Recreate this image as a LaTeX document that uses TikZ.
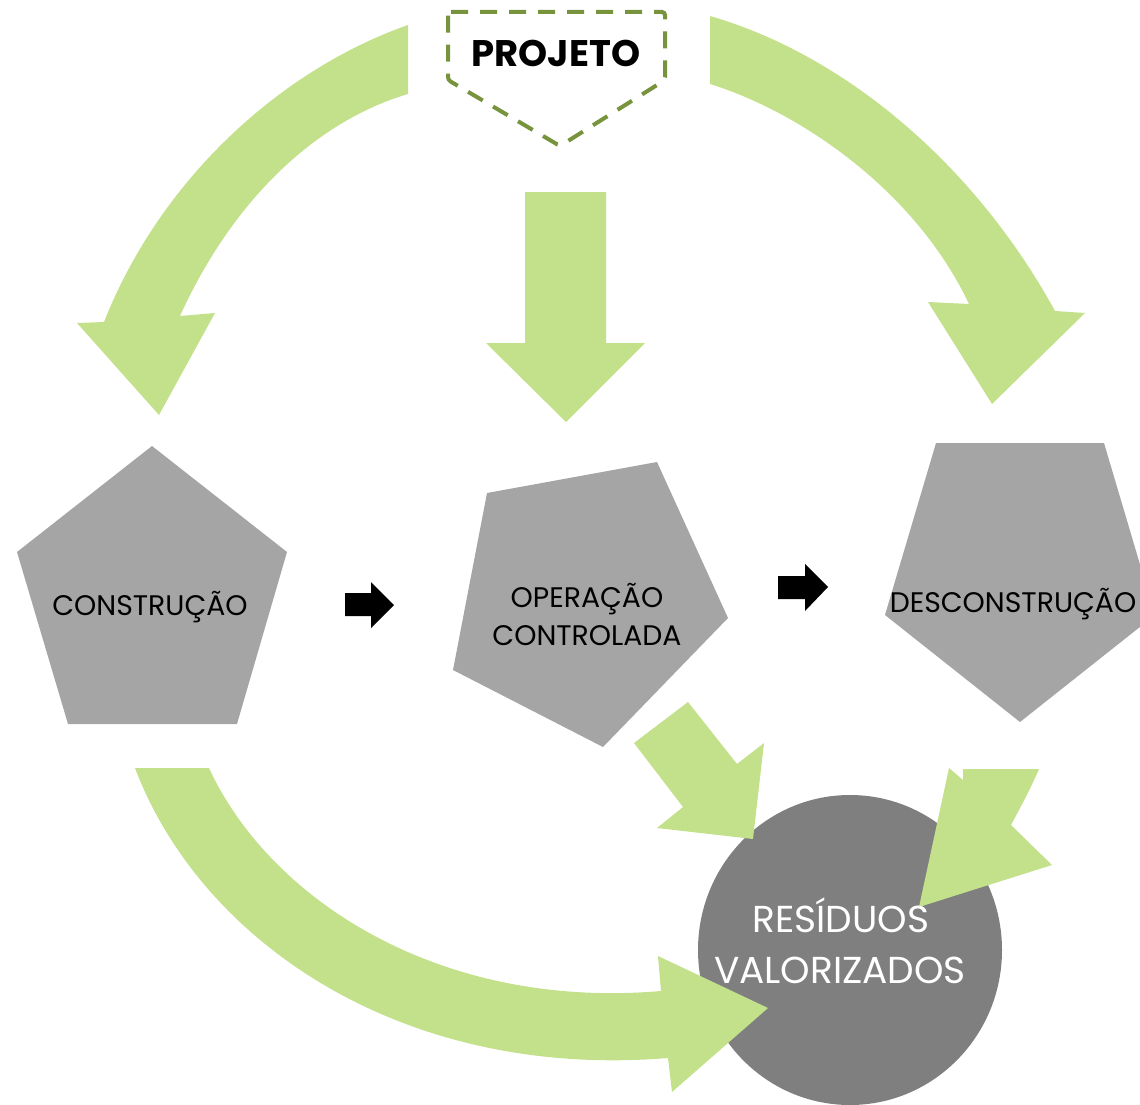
\documentclass[tikz,border=0pt]{standalone}
\usepackage{fontspec}
\setmainfont{Poppins}
\definecolor{leaf}{HTML}{C3E08B}
\definecolor{stone}{HTML}{A5A5A5}
\definecolor{slate}{HTML}{7F7F7F}
\definecolor{olive}{HTML}{77933C}
\begin{document}
\begin{tikzpicture}[x=1pt,y=-1pt,
  flow/.style={fill=leaf, draw=none},
  block/.style={fill=stone, draw=none},
  push/.style={fill=black, draw=none},
  stagetext/.style={font=\fontsize{28.3}{32}\selectfont, text=black, anchor=base, inner sep=0pt},
  hubtext/.style={font=\fontsize{37.5}{42}\selectfont, text=white, anchor=base, inner sep=0pt},
]
\useasboundingbox (0,0) rectangle (1140,1105);

% project badge
\draw[olive, line width=4, dash pattern=on 17 off 12, rounded corners=3]
  (448,12) -- (665,12) -- (665,80) -- (560,146) -- (448,80) -- cycle;
\node[font=\bfseries\fontsize{37}{42}\selectfont, text=black, anchor=base, inner sep=0pt] (projeto) at (556,67) {PROJETO};

% curved arrow: project -> construction
\path[flow] (408,25) .. controls (280,70) and (160,180) .. (104,322)
  -- (77,323) -- (159,415) -- (215,313) -- (180,316)
  .. controls (235,195) and (320,120) .. (408,94) -- cycle;

% curved arrow: project -> deconstruction
\path[flow] (710,16) .. controls (845,55) and (975,165) .. (1055,311)
  -- (1085,313) -- (992,404) -- (928,302) -- (969,304)
  .. controls (915,190) and (800,112) .. (710,84) -- cycle;

% straight arrow: project -> operation
\path[flow] (525,192) -- (606,192) -- (606,343) -- (645,343) -- (566,422)
  -- (486,343) -- (525,343) -- cycle;

% stages
\path[block] (152,446) -- (287,552) -- (237,724) -- (68,724) -- (17,552) -- cycle;
\path[block] (487,493) -- (657,462) -- (728,618) -- (603,747) -- (453,670) -- cycle;
\path[block] (936,443) -- (1104,443) -- (1155,615) -- (1020,722) -- (885,615) -- cycle;

\node[stagetext] (construcao) at (150,615) {CONSTRUÇÃO};
\node[stagetext] (operacao) at (587,607) {OPERAÇÃO};
\node[stagetext] (controlada) at (587,645) {CONTROLADA};
\node[stagetext] (desconstrucao) at (1013,612) {DESCONSTRUÇÃO};

% sequence arrows
\path[push] (345,593) -- (371,593) -- (371,582) -- (394,605) -- (371,628) -- (371,616) -- (345,616) -- cycle;
\path[push] (778,576) -- (805,576) -- (805,564) -- (828,587) -- (805,611) -- (805,599) -- (778,599) -- cycle;

% recovered waste
\fill[slate] (850,950) ellipse [x radius=152, y radius=155];

% arrows into the recovered waste
\path[flow] (634,743) -- (688,702) -- (737,764) -- (764,743) -- (753,839)
  -- (657,828) -- (683,807) -- cycle;
\path[flow] (963,769) -- (1039,769) .. controls (1030,790) and (1020,808) .. (1011,825)
  -- (1052,865) -- (919,907) -- (949,768) -- (963,780) -- cycle;
\path[flow] (135,768) .. controls (200,940) and (400,1080) .. (668,1058)
  -- (672,1092) -- (768,1008) -- (658,956) -- (661,991)
  .. controls (440,1010) and (270,900) .. (209,768) -- cycle;

\node[hubtext] (residuos) at (841,932) {RESÍDUOS};
\node[hubtext] (valorizados) at (840,983) {VALORIZADOS};
\end{tikzpicture}
\end{document}
